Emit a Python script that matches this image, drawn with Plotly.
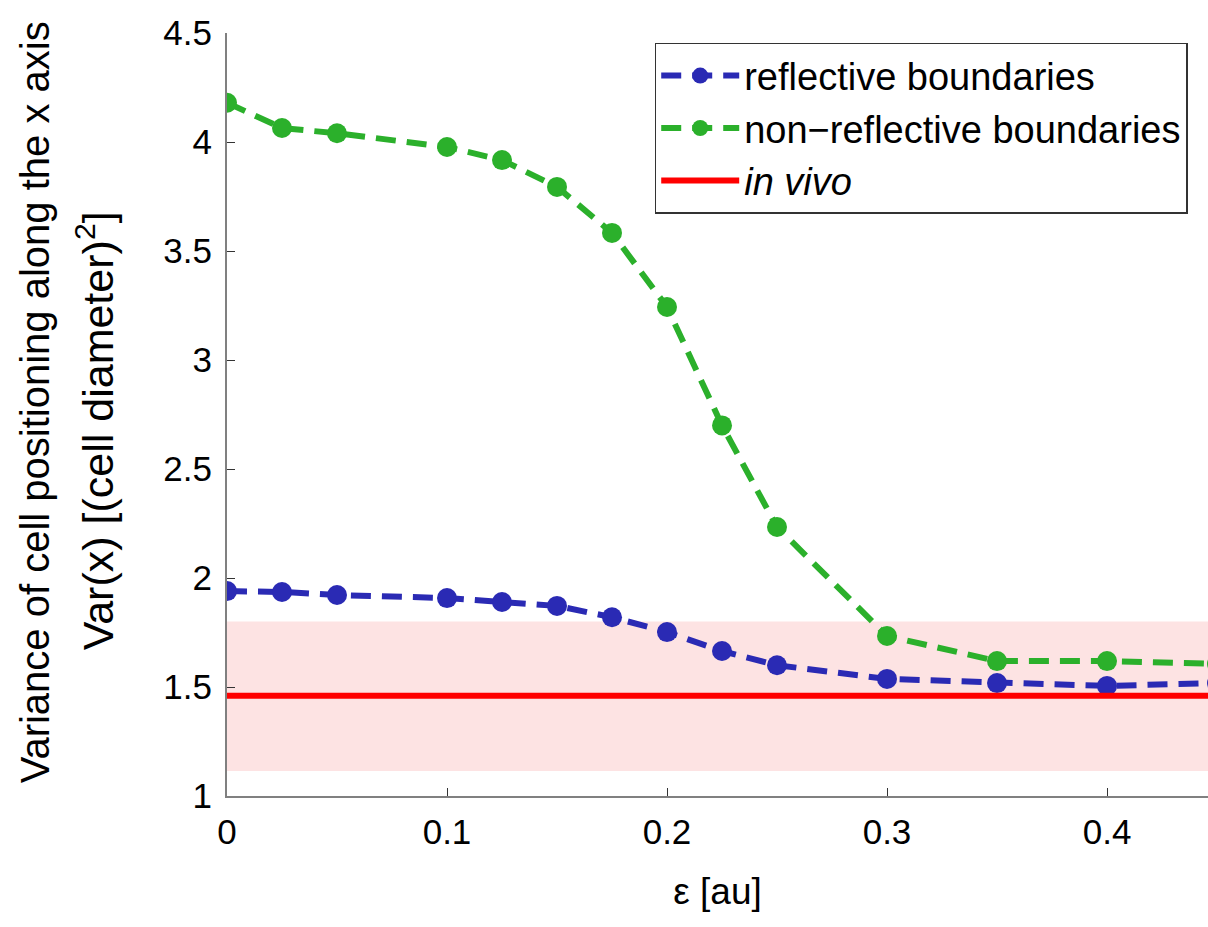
import plotly.graph_objects as go

eps = [0, 0.025, 0.05, 0.1, 0.125, 0.15, 0.175, 0.2, 0.225, 0.25, 0.3, 0.35, 0.4, 0.45]
reflective = [1.94, 1.936, 1.922, 1.908, 1.89, 1.872, 1.82, 1.752, 1.665, 1.60, 1.537, 1.518, 1.505, 1.518]
non_reflective = [4.18, 4.064, 4.04, 3.977, 3.917, 3.794, 3.583, 3.243, 2.70, 2.234, 1.734, 1.619, 1.619, 1.606]
invivo_x = [0, 0.45]
invivo_mean = 1.46
invivo_low = 1.115
invivo_high = 1.80

BLUE = "#2a2ab4"
GREEN = "#2bb02b"
RED = "#ff0000"
FONT = "Liberation Sans, Arial, sans-serif"

fig = go.Figure()
fig.add_shape(type="rect", xref="x", yref="y", x0=invivo_x[0], x1=invivo_x[1],
              y0=invivo_low, y1=invivo_high, fillcolor="#fde3e3", line_width=0, layer="below")
fig.add_trace(go.Scatter(x=eps, y=reflective, mode="lines+markers", name="reflective boundaries",
                         line=dict(color=BLUE, width=6, dash="20px,11px"),
                         marker=dict(color=BLUE, size=20)))
fig.add_trace(go.Scatter(x=eps, y=non_reflective, mode="lines+markers", name="non\u2212reflective boundaries",
                         line=dict(color=GREEN, width=6, dash="20px,11px"),
                         marker=dict(color=GREEN, size=20)))
fig.add_trace(go.Scatter(x=invivo_x, y=[invivo_mean] * len(invivo_x), mode="lines", name="<i>in vivo</i>",
                         line=dict(color=RED, width=6)))

fig.update_layout(
    width=1208, height=927,
    margin=dict(l=227, r=0, t=33, b=131),
    plot_bgcolor="white", paper_bgcolor="white",
    font=dict(family=FONT, size=35, color="black"),
    showlegend=True,
    legend=dict(x=0.436, y=0.987, xanchor="left", yanchor="top",
                bordercolor="#333333", borderwidth=1.5, bgcolor="white",
                font=dict(size=38), itemwidth=78, tracegroupgap=0),
    xaxis=dict(range=[0, 0.4459], tickvals=[0, 0.1, 0.2, 0.3, 0.4],
               ticktext=["0", "0.1", "0.2", "0.3", "0.4"],
               ticks="inside", ticklen=8, tickcolor="#333333",
               showline=True, linecolor="#808080", linewidth=2, showgrid=False, zeroline=False,
               tickfont=dict(size=35), ticklabelstandoff=4,
               title=dict(text="\u03b5 [au]", font=dict(size=37), standoff=28)),
    yaxis=dict(range=[1, 4.5], tickvals=[1, 1.5, 2, 2.5, 3, 3.5, 4, 4.5],
               ticktext=["1", "1.5", "2", "2.5", "3", "3.5", "4", "4.5"],
               ticks="inside", ticklen=8, tickcolor="#333333",
               showline=True, linecolor="#808080", linewidth=2, showgrid=False, zeroline=False,
               tickfont=dict(size=35), ticklabelstandoff=6),
)

fig.add_annotation(text="Variance of cell positioning along the x axis", textangle=-90,
                   xref="paper", yref="paper", x=0, y=0.516, xanchor="center", yanchor="middle",
                   xshift=-192, showarrow=False, font=dict(size=40))
fig.add_annotation(text="Var(x) [(cell diameter)<sup>2</sup>]", textangle=-90,
                   xref="paper", yref="paper", x=0, y=0.478, xanchor="center", yanchor="middle",
                   xshift=-132, showarrow=False, font=dict(size=43))

fig.write_html("out.html")
